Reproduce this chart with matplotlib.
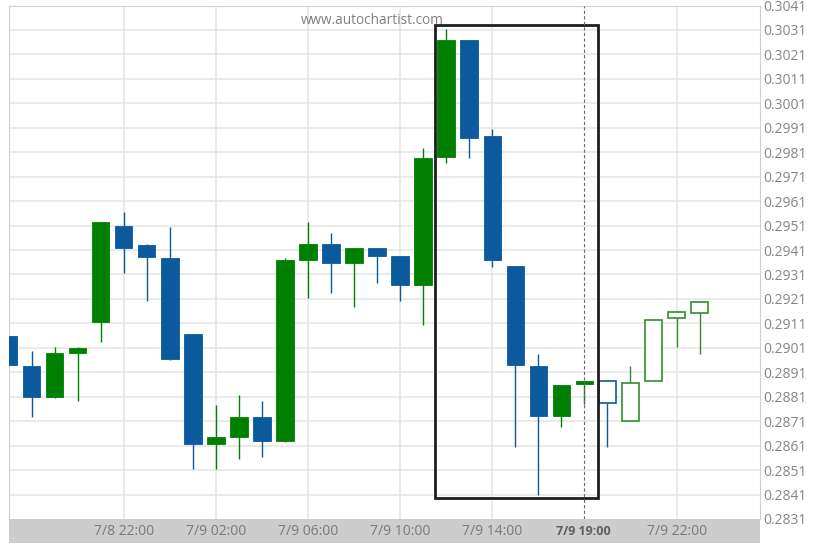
import matplotlib
matplotlib.use("Agg")
import matplotlib.pyplot as plt
from matplotlib.patches import Rectangle
import matplotlib.transforms as mtransforms

# ---- data (hourly candles, 7/8 17:00 .. 7/9 23:00) ----
opens  = [0.29060, 0.28937, 0.28809, 0.28988, 0.29117, 0.29508, 0.29429, 0.29379,
          0.29065, 0.28618, 0.28646, 0.28728, 0.28630, 0.29369, 0.29435, 0.29358,
          0.29418, 0.29384, 0.29268, 0.29792, 0.30269, 0.29878, 0.29345, 0.28936,
          0.28732, 0.28861, 0.28873, 0.28709, 0.28873, 0.29131, 0.29154]
closes = [0.28938, 0.28809, 0.28988, 0.29009, 0.29525, 0.29419, 0.29380, 0.28965,
          0.28618, 0.28644, 0.28728, 0.28630, 0.29368, 0.29435, 0.29358, 0.29418,
          0.29386, 0.29268, 0.29788, 0.30269, 0.29869, 0.29370, 0.28938, 0.28732,
          0.28857, 0.28873, 0.28783, 0.28867, 0.29125, 0.29155, 0.29199]
highs  = [0.29060, 0.28997, 0.29015, 0.29015, 0.29525, 0.29567, 0.29433, 0.29505,
          0.29065, 0.28777, 0.28817, 0.28794, 0.29379, 0.29523, 0.29478, 0.29418,
          0.29418, 0.29384, 0.29826, 0.30313, 0.30269, 0.29905, 0.29345, 0.28985,
          0.28857, 0.28873, 0.28873, 0.28936, 0.29125, 0.29155, 0.29199]
lows   = [0.28938, 0.28726, 0.28804, 0.28794, 0.29035, 0.29315, 0.29203, 0.28960,
          0.28516, 0.28516, 0.28554, 0.28565, 0.28624, 0.29215, 0.29235, 0.29176,
          0.29276, 0.29203, 0.29103, 0.29765, 0.29785, 0.29342, 0.28603, 0.28408,
          0.28687, 0.28779, 0.28603, 0.28709, 0.28873, 0.29012, 0.28983]
hollow = [False] * 26 + [True] * 5

tick_idx = [5, 9, 13, 17, 21, 25, 29]
tick_labels = ["7/8 22:00", "7/9 02:00", "7/9 06:00", "7/9 10:00",
               "7/9 14:00", "7/9 19:00", "7/9 22:00"]
bold_label = "7/9 19:00"
y_ticks = [0.2831 + 0.001 * i for i in range(22)]

pattern_x = (18.5, 25.6)
pattern_y = (0.28395, 0.30330)
marker_idx = 25

# ---- style ----
UP = "#008000"
DOWN = "#0b5a9e"
UP_HOLLOW = "#2e8f2e"
GRID = "#e4e4e4"
W, H = 822, 548

fig = plt.figure(figsize=(W / 100, H / 100), dpi=100)
fig.patch.set_facecolor("white")
left_px, right_px, top_px, bot_px = 8.5, 759.5, 5.5, 519.0
band_bot_px = 543.0
ax = fig.add_axes([left_px / W, 1 - bot_px / H, (right_px - left_px) / W, (bot_px - top_px) / H])
ax.set_xlim(0.0, 32.6)
ax.set_ylim(y_ticks[0], y_ticks[-1])

for s in ax.spines.values():
    s.set_color("#cfcfcf")
    s.set_linewidth(0.8)
ax.spines["bottom"].set_visible(False)

ax.set_yticks(y_ticks)
ax.set_yticklabels([f"{v:.4f}" for v in y_ticks])
ax.yaxis.tick_right()
ax.tick_params(axis="y", length=0, pad=2.5, labelsize=10, labelcolor="#858585")
for lbl in ax.get_yticklabels():
    lbl.set_fontfamily("Open Sans")
    lbl.set_va("center_baseline")
ax.set_xticks([])
ax.grid(False)
for v in y_ticks[1:-1]:
    ax.axhline(v, color=GRID, lw=1.1, zorder=0)
for k in tick_idx:
    if k != marker_idx:
        ax.axvline(k, color=GRID, lw=1.1, zorder=0)

bw = 0.76
for k, (o, c, h, l, hol) in enumerate(zip(opens, closes, highs, lows, hollow)):
    up = c >= o
    if hol:
        col = UP_HOLLOW if up else DOWN
    else:
        col = UP if up else DOWN
    lo_b, hi_b = min(o, c), max(o, c)
    if h > hi_b:
        ax.vlines(k, hi_b, h, color=col, lw=1.0, zorder=2)
    if l < lo_b:
        ax.vlines(k, l, lo_b, color=col, lw=1.0, zorder=2)
    if hol:
        ax.add_patch(Rectangle((k - bw / 2, lo_b), bw, hi_b - lo_b,
                               facecolor="white", edgecolor=col, lw=1.2, zorder=3))
    else:
        ax.add_patch(Rectangle((k - bw / 2, lo_b), bw, hi_b - lo_b,
                               facecolor=col, edgecolor=col, lw=0.6, zorder=3))

# pattern box and marker line
ax.add_patch(Rectangle((pattern_x[0], pattern_y[0]), pattern_x[1] - pattern_x[0],
                       pattern_y[1] - pattern_y[0], fill=False,
                       edgecolor="#1e1e1e", lw=2.0, zorder=4))
ax.axvline(marker_idx, color="#6a6a6a", lw=0.8, ls=(0, (3, 2)), zorder=4)

# watermark
ax.text(372 / W, 1 - 20.5 / H, "www.autochartist.com", transform=fig.transFigure,
        ha="center", va="center", fontsize=9.8, color="#7f7f7f", family="Open Sans")

# bottom grey band with x labels
ax.add_patch(Rectangle((left_px / W, 1 - band_bot_px / H), (right_px - left_px) / W,
                       (band_bot_px - bot_px) / H, transform=fig.transFigure,
                       facecolor="#cdcdcd", edgecolor="none", zorder=5, clip_on=False))
trans = mtransforms.blended_transform_factory(ax.transData, fig.transFigure)
for k, lab in zip(tick_idx, tick_labels):
    if lab == bold_label:
        ax.text(k - 0.05, 1 - 531.5 / H, lab, transform=trans, ha="center", va="center",
                fontsize=9, color="#5e5e5e", family="Open Sans", fontweight="bold",
                fontstretch="condensed", clip_on=False, zorder=6)
    else:
        ax.text(k, 1 - 531.5 / H, lab, transform=trans, ha="center", va="center",
                fontsize=10, color="#7a7a7a", family="Open Sans",
                clip_on=False, zorder=6)

fig.savefig("out.png", dpi=100)
